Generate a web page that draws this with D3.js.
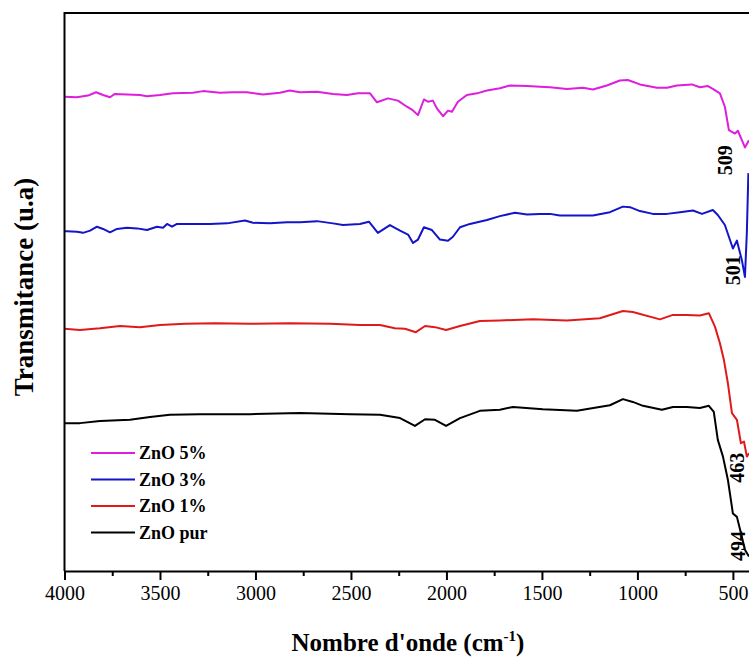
<!DOCTYPE html>
<html>
<head>
<meta charset="utf-8">
<script src="https://cdn.jsdelivr.net/npm/d3@7"></script>
<style>
    body { margin: 0; background: #fff; }
    .c-chart text { font-family: "Liberation Serif", "Times New Roman", serif; }
</style>
</head>
<body>
<div class="c-chart"></div>
<script>
    // wavenumber (cm-1), transmittance (u.a) pairs
    var zno5 = [
        [4000, 85.0], [3936, 84.9], [3877, 85.2], [3835, 85.8], [3798, 85.3], [3762, 84.9],
        [3736, 85.5], [3673, 85.4], [3605, 85.3], [3568, 85.1], [3500, 85.3], [3432, 85.6],
        [3327, 85.7], [3275, 86.0], [3186, 85.7], [3118, 85.8], [3045, 85.8], [2961, 85.4],
        [2872, 85.7], [2820, 86.1], [2767, 85.8], [2678, 85.9], [2594, 85.5], [2521, 85.3],
        [2463, 85.6], [2400, 85.6], [2364, 84.0], [2306, 84.7], [2254, 84.3], [2207, 83.2],
        [2181, 82.7], [2149, 81.7], [2118, 84.5], [2097, 84.1], [2071, 84.3], [2050, 82.9],
        [2018, 81.5], [1992, 82.5], [1971, 82.3], [1940, 84.1], [1893, 85.3], [1840, 85.6],
        [1788, 86.1], [1720, 86.5], [1667, 87.0], [1578, 86.9], [1510, 86.8], [1458, 86.7],
        [1369, 86.4], [1285, 86.6], [1233, 86.3], [1160, 87.0], [1092, 87.9], [1050, 88.0],
        [987, 87.2], [898, 86.6], [845, 86.6], [793, 87.0], [715, 87.2], [673, 86.7],
        [631, 86.9], [605, 86.4], [568, 85.6], [542, 83.2], [521, 79.0], [489, 78.4],
        [474, 78.9], [453, 77.2], [437, 75.9], [416, 77.2]
    ];

    var zno3 = [
        [4000, 60.9], [3987, 60.9], [3935, 60.8], [3903, 60.6], [3866, 61.0], [3830, 61.7],
        [3798, 61.3], [3762, 60.7], [3725, 61.3], [3673, 61.5], [3620, 61.4], [3568, 61.1],
        [3516, 61.7], [3484, 61.5], [3463, 62.2], [3437, 61.7], [3411, 62.2], [3327, 62.2],
        [3238, 62.2], [3149, 62.3], [3055, 62.8], [3013, 62.4], [2924, 62.3], [2835, 62.5],
        [2767, 62.5], [2678, 62.7], [2594, 62.3], [2542, 62.0], [2453, 62.2], [2406, 62.6],
        [2359, 60.6], [2296, 62.0], [2243, 61.0], [2201, 60.3], [2175, 58.8], [2149, 59.4],
        [2118, 61.6], [2076, 61.1], [2034, 59.4], [1992, 59.2], [1966, 59.9], [1929, 61.6],
        [1877, 62.2], [1788, 62.9], [1720, 63.6], [1641, 64.2], [1578, 63.9], [1510, 64.0],
        [1458, 64.0], [1406, 63.7], [1233, 63.7], [1144, 64.3], [1076, 65.3], [1039, 65.2],
        [987, 64.5], [919, 64.0], [845, 64.0], [777, 64.3], [709, 64.6], [662, 64.0],
        [605, 64.7], [579, 63.8], [542, 62.0], [500, 57.8], [479, 59.2], [453, 55.7],
        [437, 52.7], [427, 60.6], [419, 71.3]
    ];

    var zno1 = [
        [4000, 43.4], [3919, 43.2], [3814, 43.5], [3709, 43.9], [3605, 43.7], [3500, 44.1],
        [3369, 44.3], [3212, 44.4], [3029, 44.3], [2819, 44.4], [2610, 44.3], [2453, 44.1],
        [2348, 44.1], [2270, 43.5], [2217, 43.4], [2160, 42.8], [2112, 43.9], [2060, 43.7],
        [2002, 43.2], [1929, 43.9], [1825, 44.8], [1720, 44.9], [1547, 45.1], [1369, 44.9],
        [1197, 45.3], [1076, 46.6], [1024, 46.4], [882, 45.1], [814, 45.9], [741, 45.9],
        [673, 45.8], [626, 46.2], [594, 43.8], [568, 40.8], [547, 37.8], [526, 33.6],
        [505, 28.3], [479, 27.1], [458, 22.9], [442, 23.2], [427, 20.5], [416, 21.1]
    ];

    var znoPur = [
        [4000, 26.5], [3919, 26.5], [3814, 26.9], [3657, 27.1], [3552, 27.6], [3448, 28.0],
        [3291, 28.1], [3029, 28.1], [2767, 28.3], [2505, 28.1], [2348, 28.0], [2243, 27.4],
        [2165, 26.0], [2112, 27.2], [2060, 27.1], [2002, 26.0], [1929, 27.4], [1825, 28.7],
        [1720, 28.9], [1652, 29.4], [1495, 29.0], [1317, 28.7], [1144, 29.7], [1076, 30.8],
        [1024, 30.3], [971, 29.6], [872, 28.9], [814, 29.4], [741, 29.4], [673, 29.2],
        [626, 29.6], [600, 28.5], [579, 23.5], [552, 20.5], [526, 16.3], [500, 10.3],
        [479, 9.7], [458, 6.8], [437, 3.8], [416, 2.6]
    ];

    var seriesNames = ["ZnO 5%", "ZnO 3%", "ZnO 1%", "ZnO pur"];
    var seriesColors = ["#dd1fdd", "#1414c8", "#e01a1a", "#000000"];
    var seriesData = [zno5, zno3, zno1, znoPur];

    // peak annotations: [wavenumber, transmittance position, text]
    var peakLabels = [
        [505, 73.6, "509"],
        [462, 53.9, "501"],
        [440, 18.5, "463"],
        [436, 4.5, "494"]
    ];

    var xTicks = [4000, 3500, 3000, 2500, 2000, 1500, 1000, 500];
    var xMinorTicks = [3750, 3250, 2750, 2250, 1750, 1250, 750];

    var xAxisLabel = "Nombre d'onde (cm";
    var yAxisLabel = "Transmitance (u.a)";

    var serif = "Liberation Serif, Times New Roman, serif";

    var margin = { top: 13, left: 64.5, bottom: 89 };
    var W = 749, H = 660;
    var plotRight = 752;
    var plotBottom = H - margin.bottom;

    var xScale = d3.scaleLinear()
        .domain([4000, 400])
        .range([margin.left, plotRight]);

    var yScale = d3.scaleLinear()
        .domain([0, 100])
        .range([plotBottom, margin.top]);

    var svg = d3.select(".c-chart")
        .append("svg")
        .attr("width", W)
        .attr("height", H)
        .attr("font-family", serif);

    var line = d3.line()
        .x(function (d) { return xScale(d[0]); })
        .y(function (d) { return yScale(d[1]); });

    // curves
    seriesData.forEach(function (s, i) {
        svg.append("path")
            .datum(s)
            .attr("fill", "none")
            .attr("stroke", seriesColors[i])
            .attr("stroke-width", 2)
            .attr("stroke-linejoin", "round")
            .attr("d", line);
    });

    // frame: top and left
    svg.append("path")
        .attr("d", "M" + margin.left + "," + plotBottom + "V" + margin.top + "H" + plotRight)
        .attr("fill", "none")
        .attr("stroke", "#000")
        .attr("stroke-width", 2);

    // bottom axis
    var xAxis = svg.append("g")
        .attr("transform", "translate(0," + plotBottom + ")")
        .call(d3.axisBottom(xScale)
            .tickValues(xTicks)
            .tickSize(9)
            .tickPadding(6)
            .tickFormat(d3.format("d")))
        .attr("font-family", serif);

    xAxis.select(".domain").attr("stroke-width", 2);
    xAxis.selectAll(".tick line").attr("stroke-width", 2);
    xAxis.selectAll(".tick text")
        .attr("font-size", 20)
        .attr("fill", "#000");

    svg.append("g")
        .attr("transform", "translate(0," + plotBottom + ")")
        .call(d3.axisBottom(xScale)
            .tickValues(xMinorTicks)
            .tickSize(5)
            .tickFormat(""))
        .call(function (g) { g.select(".domain").remove(); })
        .selectAll(".tick line").attr("stroke-width", 2);

    // axis titles
    var xt = svg.append("text")
        .attr("x", 408)
        .attr("y", 651)
        .attr("text-anchor", "middle")
        .attr("font-size", 25)
        .attr("font-weight", "bold");
    xt.append("tspan").text(xAxisLabel);
    xt.append("tspan").attr("dy", -10).attr("font-size", 15).text("-1");
    xt.append("tspan").attr("dy", 10).text(")");

    svg.append("text")
        .attr("transform", "translate(33,287) rotate(-90)")
        .attr("text-anchor", "middle")
        .attr("font-size", 27)
        .attr("font-weight", "bold")
        .text(yAxisLabel);

    // peak labels
    peakLabels.forEach(function (p) {
        svg.append("text")
            .attr("transform", "translate(" + xScale(p[0]) + "," + yScale(p[1]) + ") rotate(-90)")
            .attr("text-anchor", "middle")
            .attr("font-size", 20)
            .attr("font-weight", "bold")
            .text(p[2]);
    });

    // legend
    var legend = svg.append("g")
        .attr("transform", "translate(91,453)");

    seriesNames.forEach(function (name, i) {
        var row = legend.append("g")
            .attr("transform", "translate(0," + (i * 26.5) + ")");
        row.append("line")
            .attr("x1", 0)
            .attr("x2", 44)
            .attr("stroke", seriesColors[i])
            .attr("stroke-width", 2);
        row.append("text")
            .attr("x", 48)
            .attr("y", 6)
            .attr("font-size", 18)
            .attr("font-weight", "bold")
            .text(name);
    });
</script>
</body>
</html>
